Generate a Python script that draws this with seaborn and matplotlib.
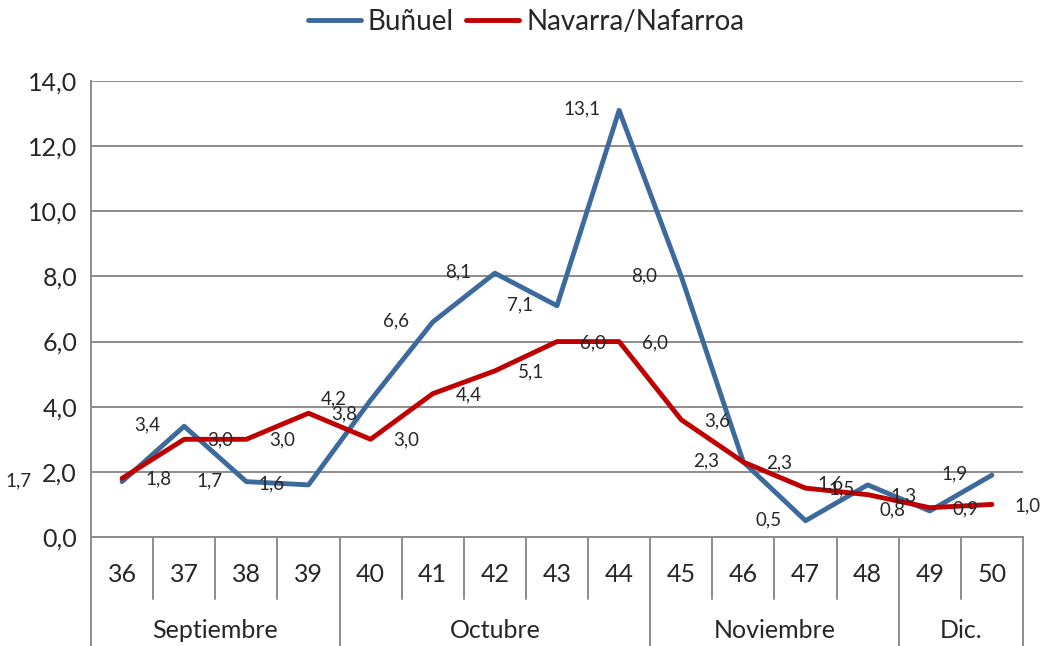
import numpy as np
import pandas as pd
import matplotlib
matplotlib.use("Agg")
import matplotlib.pyplot as plt
import matplotlib.transforms as mtransforms
from matplotlib.ticker import FuncFormatter
from matplotlib.lines import Line2D
import seaborn as sns

weeks = ["36", "37", "38", "39", "40", "41", "42", "43", "44", "45", "46", "47", "48", "49", "50"]
bunuel = [1.7, 3.4, 1.7, 1.6, 4.2, 6.6, 8.1, 7.1, 13.1, 8.0, 2.3, 0.5, 1.6, 0.8, 1.9]
navarra = [1.8, 3.0, 3.0, 3.8, 3.0, 4.4, 5.1, 6.0, 6.0, 3.6, 2.3, 1.5, 1.3, 0.9, 1.0]
months = ["Septiembre", "Octubre", "Noviembre", "Dic."]
month_weeks = [4, 5, 4, 2]
series_names = ["Buñuel", "Navarra/Nafarroa"]

sns.set_style("white")
plt.rcParams["font.family"] = ["Lato", "DejaVu Sans"]

blue = "#3D6A9C"
red = "#C00000"
grey = "#8C8C8C"

df = pd.DataFrame({
    "pos": list(range(len(weeks))) * 2,
    "value": bunuel + navarra,
    "serie": [series_names[0]] * len(weeks) + [series_names[1]] * len(weeks),
})

fig = plt.figure(figsize=(10.43, 6.46), dpi=100)
ax = fig.add_axes([91 / 1043, 109 / 646, 932 / 1043, 456 / 646])

sns.lineplot(data=df, x="pos", y="value", hue="serie", palette=[blue, red],
             linewidth=3.5, ax=ax, legend=False)

ax.set_xlim(-0.5, len(weeks) - 0.5)
ax.set_ylim(0, 14)
ax.set_yticks(np.arange(0, 14.1, 2))
ax.yaxis.set_major_formatter(FuncFormatter(lambda v, p: f"{v:.1f}".replace(".", ",")))
ax.grid(axis="y", color=grey, linewidth=1.4)
ax.set_axisbelow(True)
for s in ["top", "right"]:
    ax.spines[s].set_visible(False)
for s in ["left", "bottom"]:
    ax.spines[s].set_color(grey)
    ax.spines[s].set_linewidth(1.4)
ax.tick_params(axis="y", labelsize=18, length=6, color=grey, width=1.4, pad=4)
ax.set_xlabel("")
ax.set_ylabel("")

# week labels
ax.set_xticks(range(len(weeks)))
ax.set_xticklabels(weeks, fontsize=18)
ax.tick_params(axis="x", length=0, pad=19)

# category table lines
trans = mtransforms.blended_transform_factory(ax.transData, ax.transAxes)
bounds = np.cumsum([0] + month_weeks)
month_bounds = set(bounds.tolist())
for b in range(len(weeks) + 1):
    x = b - 0.5
    y1 = -109 / 456 if b in month_bounds else -62 / 456
    ax.plot([x, x], [0, y1], transform=trans, color=grey, linewidth=1.4, clip_on=False)
for i, m in enumerate(months):
    cx = (bounds[i] + bounds[i + 1] - 1) / 2
    ax.text(cx, -94 / 456, m, transform=trans, ha="center", va="center", fontsize=18)

# data labels
for i, v in enumerate(bunuel):
    dx = -37 if i > 0 else -104
    ax.annotate(f"{v:.1f}".replace(".", ","), (i, v), xytext=(dx, 1), textcoords="offset pixels",
                ha="center", va="center", fontsize=13.5)
for i, v in enumerate(navarra):
    ax.annotate(f"{v:.1f}".replace(".", ","), (i, v), xytext=(36, -1), textcoords="offset pixels",
                ha="center", va="center", fontsize=13.5)

handles = [Line2D([], [], color=blue, linewidth=3.5), Line2D([], [], color=red, linewidth=3.5)]
fig.legend(handles, series_names, loc="center", bbox_to_anchor=(526 / 1043, 1 - 22 / 646),
           ncol=2, frameon=False, fontsize=20, handlelength=1.9, columnspacing=0.45,
           handletextpad=0.25)

fig.savefig("out.png", dpi=100)
